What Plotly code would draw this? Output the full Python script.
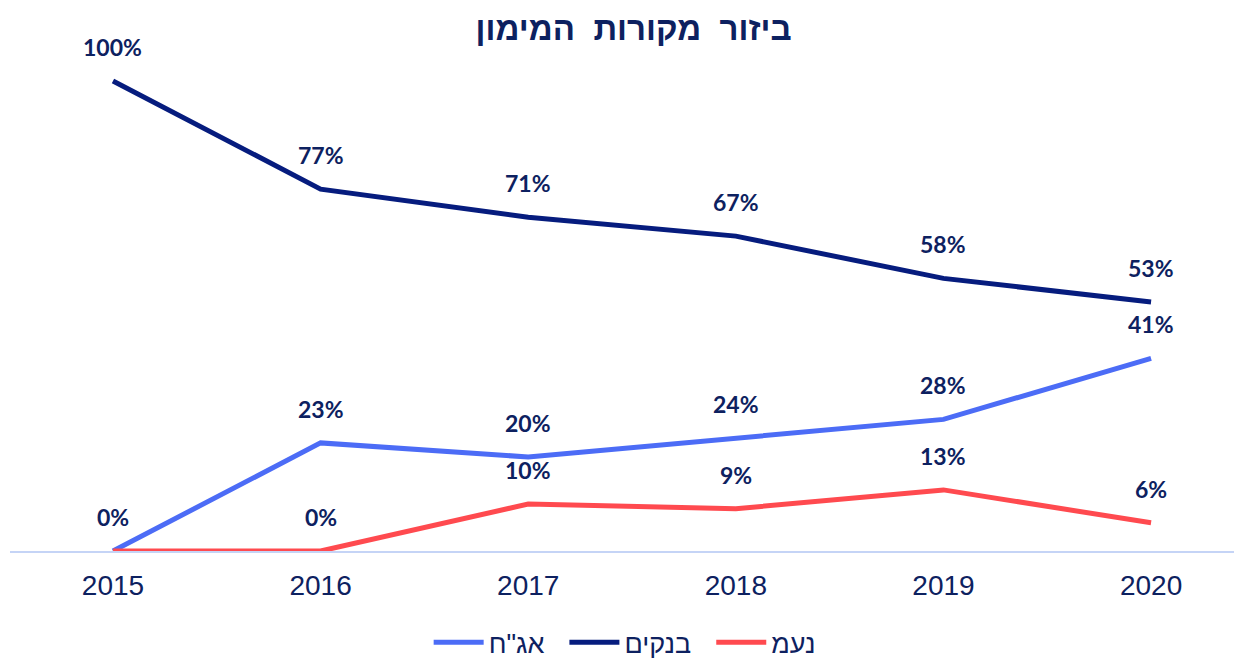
import plotly.graph_objects as go

years = ["2015", "2016", "2017", "2018", "2019", "2020"]
bonds = [0, 23, 20, 24, 28, 41]
banks = [100, 77, 71, 67, 58, 53]
noam = [0, 0, 10, 9, 13, 6]

bonds_text = ["0%", "23%", "20%", "24%", "28%", "41%"]
banks_text = [f"{v}%" for v in banks]
noam_text = ["", "0%", "10%", "9%", "13%", "6%"]

NAVY_TXT = "#0D2160"
ARIAL = "Liberation Sans, Arial"
label_font = dict(family="Lato", size=23, color=NAVY_TXT, weight="bold")

series = [
    ('אג"ח', bonds, bonds_text, "#4C6CF6"),
    ("בנקים", banks, banks_text, "#061C7E"),
    ("נעמ", noam, noam_text, "#FF4A4F"),
]

fig = go.Figure()
annotations = []
for name, vals, texts, color in series:
    fig.add_trace(go.Scatter(x=years, y=vals, name=name + "\u00a0\u00a0", mode="lines",
                             line=dict(color=color, width=5), cliponaxis=False,
                             hoverinfo="skip"))
    for i, (yv, tv) in enumerate(zip(vals, texts)):
        if tv:
            annotations.append(dict(x=i, y=yv, text=tv, showarrow=False,
                                    xref="x", yref="y", yshift=34,
                                    yanchor="middle", font=label_font))

fig.update_layout(
    width=1234, height=655,
    margin=dict(l=2, r=0, t=52, b=112, autoexpand=False),
    paper_bgcolor="white", plot_bgcolor="white",
    title=dict(text="<b>ביזור\u00a0 מקורות\u00a0 המימון</b>", x=0.507, xanchor="center",
               y=1 - 20 / 655, yanchor="middle", yref="container",
               font=dict(family=ARIAL, size=33, color=NAVY_TXT)),
    annotations=annotations,
    showlegend=True,
    legend=dict(orientation="h", x=0.505, xanchor="center", y=-0.187, yanchor="middle",
                font=dict(family=ARIAL, size=27, color=NAVY_TXT),
                itemwidth=50, traceorder="normal"),
    xaxis=dict(type="category", range=[-0.496, 5.438], showgrid=False,
               showline=True, linecolor="#C5D4F6", linewidth=1.5,
               ticks="outside", ticklen=9, tickcolor="rgba(0,0,0,0)",
               tickfont=dict(family=ARIAL, size=28, color=NAVY_TXT)),
    yaxis=dict(range=[0, 104.47], visible=False, showgrid=False, zeroline=False),
)

fig.write_html("out.html")
